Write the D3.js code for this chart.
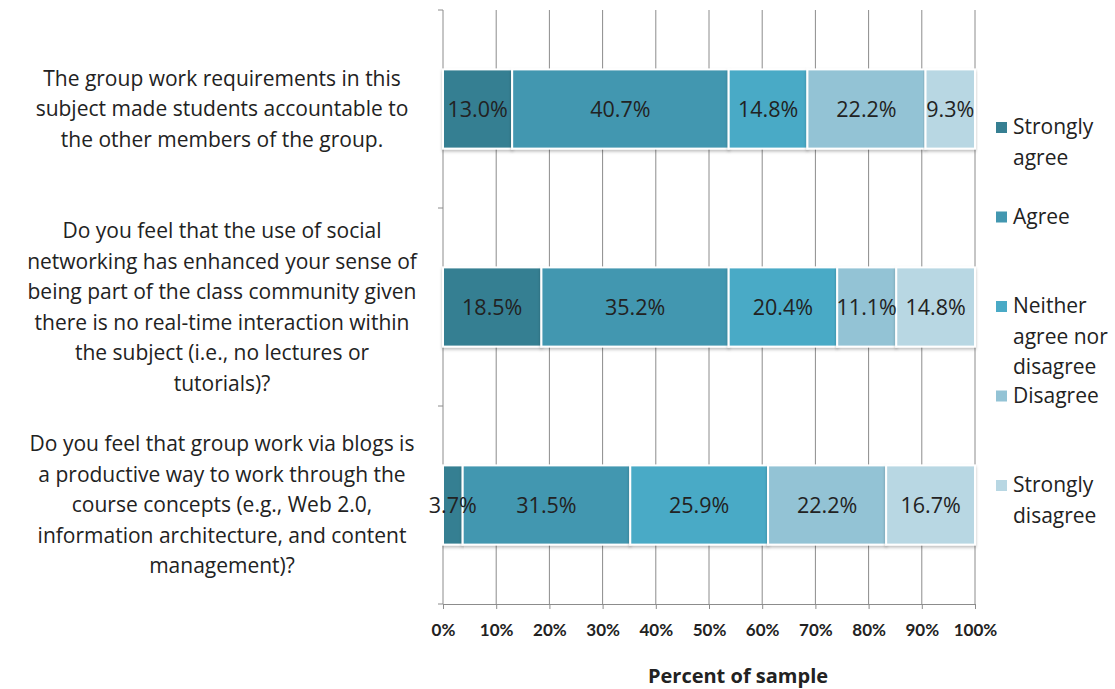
<!DOCTYPE html>
<html lang="en">
<head>
    <meta charset="UTF-8">
    <title>Percent of sample</title>
    <script src="https://cdn.jsdelivr.net/npm/d3@7/dist/d3.min.js"></script>
    <style>
        body { margin: 0; background: #fff; }
        text { font-family: "Open Sans", Lato, sans-serif; fill: #222; }
    </style>
</head>
<body>
<script>
    // questions, top to bottom (each is split into the lines shown in the chart)
    const questions = [
        ["The group work requirements in this", "subject made students accountable to", "the other members of the group."],
        ["Do you feel that the use of social", "networking has enhanced your sense of", "being part of the class community given",
            "there is no real-time interaction within", "the subject (i.e., no lectures or", "tutorials)?"],
        ["Do you feel that group work via blogs is", "a productive way to work through the", "course concepts (e.g., Web 2.0,",
            "information architecture, and content", "management)?"]
    ];
    const responses = ["Strongly agree", "Agree", "Neither agree nor disagree", "Disagree", "Strongly disagree"];
    const legendLines = [["Strongly", "agree"], ["Agree"], ["Neither", "agree nor", "disagree"], ["Disagree"], ["Strongly", "disagree"]];
    const stronglyAgree = [13.0, 18.5, 3.7];
    const agree = [40.7, 35.2, 31.5];
    const neither = [14.8, 20.4, 25.9];
    const disagree = [22.2, 11.1, 22.2];
    const stronglyDisagree = [9.3, 14.8, 16.7];
    const xTicks = [0, 10, 20, 30, 40, 50, 60, 70, 80, 90, 100];

    const colors = ["#367f92", "#4397b0", "#4aaac6", "#93c3d5", "#b8d7e3"];
    const width = 1115, height = 689;
    const margin = {top: 10, right: 140, bottom: 85, left: 443};

    const svg = d3.select("body").append("svg").attr("width", width).attr("height", height);

    const defs = svg.append("defs");
    defs.append("filter").attr("id", "shadow").attr("x", "-5%").attr("y", "-10%").attr("width", "110%").attr("height", "130%")
        .append("feDropShadow").attr("dx", 0).attr("dy", 2).attr("stdDeviation", 1.5)
        .attr("flood-color", "#000").attr("flood-opacity", 0.25);

    const x = d3.scaleLinear().domain([0, 100]).range([margin.left, 975]);
    const y = d3.scaleBand().domain(d3.range(questions.length))
        .range([margin.top, height - margin.bottom]).paddingInner(0.6).paddingOuter(0.3);
    const yBand = d3.scaleBand().domain(d3.range(questions.length)).range([margin.top, height - margin.bottom]);

    const rows = questions.map((q, i) => [stronglyAgree[i], agree[i], neither[i], disagree[i], stronglyDisagree[i]]);
    const table = rows.map((r, i) => {
        let acc = 0;
        return r.map((v, k) => { const s = {q: i, k, v, x0: acc, x1: acc + v}; acc += v; return s; });
    });

    // gridlines
    svg.append("g").selectAll("line").data(xTicks.slice(1)).join("line")
        .attr("x1", d => x(d)).attr("x2", d => x(d))
        .attr("y1", margin.top).attr("y2", height - margin.bottom)
        .attr("stroke", "#8c8c8c").attr("stroke-width", 1);

    // x axis
    const xAxis = svg.append("g")
        .attr("transform", `translate(0,${height - margin.bottom})`)
        .call(d3.axisBottom(x).tickValues(xTicks).tickFormat(d => d + "%").tickSize(5).tickPadding(15));
    xAxis.selectAll("path, line").attr("stroke", "#8c8c8c");
    xAxis.selectAll("text").style("font-family", "Lato, sans-serif").style("font-size", "17px")
        .style("font-weight", "bold").attr("fill", "#222");

    // y axis with ticks at band boundaries
    const yAxis = svg.append("g");
    yAxis.append("line").attr("x1", margin.left).attr("x2", margin.left)
        .attr("y1", margin.top).attr("y2", height - margin.bottom).attr("stroke", "#8c8c8c");
    yAxis.selectAll(".yt").data(d3.range(questions.length + 1)).join("line").attr("class", "yt")
        .attr("x1", margin.left - 5).attr("x2", margin.left)
        .attr("y1", d => margin.top + d * yBand.step()).attr("y2", d => margin.top + d * yBand.step())
        .attr("stroke", "#8c8c8c");

    // bars
    const bars = svg.append("g").selectAll("g").data(table).join("g");
    bars.selectAll("rect").data(d => d).join("rect")
        .attr("x", d => x(d.x0)).attr("width", d => x(d.x1) - x(d.x0))
        .attr("y", d => y(d.q)).attr("height", y.bandwidth())
        .attr("fill", d => colors[d.k])
        .attr("stroke", "#fff").attr("stroke-width", 2)
        .attr("filter", "url(#shadow)");

    bars.selectAll("text").data(d => d).join("text")
        .attr("x", d => (x(d.x0) + x(d.x1)) / 2)
        .attr("y", d => y(d.q) + y.bandwidth() / 2)
        .attr("text-anchor", "middle").attr("dy", "0.35em")
        .style("font-size", "21.5px")
        .text(d => d.v.toFixed(1) + "%");

    // category labels
    const lineH = 30.5;
    svg.append("g").selectAll("text").data(questions).join("text")
        .attr("text-anchor", "middle")
        .style("font-size", "21px")
        .each(function (lines, i) {
            const cy = yBand(i) + yBand.bandwidth() / 2;
            const top = cy - (lines.length - 1) * lineH / 2;
            d3.select(this).selectAll("tspan").data(lines).join("tspan")
                .attr("x", 222).attr("y", (d, j) => top + j * lineH).attr("dy", "0.35em")
                .text(d => d);
        });

    // legend
    const legend = svg.append("g").selectAll("g").data(responses).join("g")
        .attr("transform", (d, i) => `translate(996,${127 + i * 89.5})`);
    legend.append("rect").attr("x", 0).attr("y", -5).attr("width", 11).attr("height", 11)
        .attr("fill", (d, i) => colors[i]);
    legend.append("text").style("font-size", "21px")
        .each(function (d, i) {
            d3.select(this).selectAll("tspan").data(legendLines[i]).join("tspan")
                .attr("x", 17).attr("y", (t, j) => j * 30.5).attr("dy", "0.35em").text(t => t);
        });

    // axis title
    svg.append("text").attr("x", 738).attr("y", 676)
        .attr("text-anchor", "middle").attr("dy", "0.35em")
        .style("font-size", "20px").style("font-weight", "bold")
        .text("Percent of sample");
</script>
</body>
</html>
